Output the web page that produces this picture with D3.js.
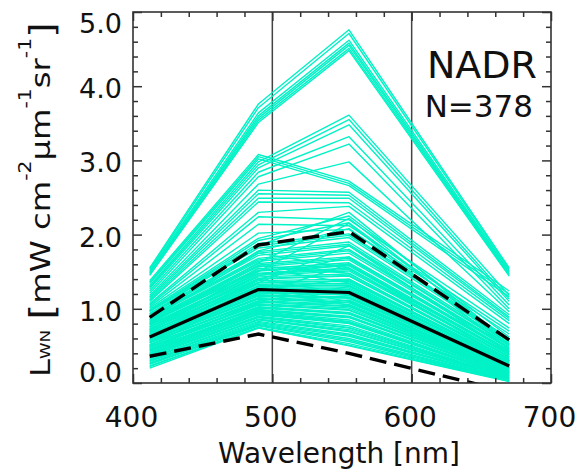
<!DOCTYPE html>
<html>
<head>
<meta charset="utf-8">
<script src="https://cdn.jsdelivr.net/npm/d3@7"></script>
<style>
  html, body { margin: 0; padding: 0; background: #fff; }
  svg { display: block; font-family: "DejaVu Sans", sans-serif; }
</style>
</head>
<body>
<svg id="chart" width="583" height="474"></svg>
<script>
// SeaWiFS-like bands (nm)
const wavelengths = [412, 490, 555, 670];

// Normalised water-leaving radiance spectra, one row per station: [412, 490, 555, 670]
const lwnSpectra = [
  // bright, high-reflectance stations
  [1.55, 3.76, 4.76, 1.55],
  [1.53, 3.71, 4.71, 1.53],
  [1.51, 3.64, 4.62, 1.51],
  [1.49, 3.60, 4.58, 1.49],
  [1.48, 3.57, 4.55, 1.47],
  [1.46, 3.54, 4.51, 1.46],
  [1.45, 3.51, 4.48, 1.44],
  // stations peaking at 490
  [1.38, 3.08, 2.72, 1.24],
  [1.36, 3.05, 2.69, 1.20],
  [1.34, 3.02, 2.66, 1.16],
  // stations peaking near 3.5 at 555
  [1.31, 2.98, 3.61, 1.18],
  [1.29, 2.94, 3.55, 1.13],
  [1.27, 2.90, 3.48, 1.10],
  [1.24, 2.84, 3.32, 1.05],
  [1.21, 2.78, 3.22, 1.00],
  // intermediate stations
  [1.18, 2.68, 2.98, 0.96],
  [1.16, 2.60, 2.57, 0.92],
  [1.14, 2.55, 2.53, 0.89],
  [1.12, 2.49, 2.49, 0.87],
  [1.10, 2.44, 2.43, 0.84],
  [1.07, 2.30, 2.38, 0.80],
  [1.05, 2.24, 2.20, 0.74],
  [1.03, 2.14, 2.12, 0.70],
  [1.01, 2.02, 2.07, 0.66],
  [0.99, 1.95, 2.25, 0.62],
  [0.97, 1.92, 2.16, 0.58],
  [0.93, 1.85, 2.30, 0.55],
  [0.88, 1.78, 2.08, 0.52],
  // bulk of the stations
  [0.98, 1.88, 2.01, 0.60],
  [0.97, 1.85, 1.99, 0.58],
  [0.96, 1.82, 1.96, 0.56],
  [0.94, 1.77, 1.90, 0.53],
  [0.93, 1.75, 1.87, 0.51],
  [0.92, 1.72, 1.85, 0.50],
  [0.90, 1.68, 1.80, 0.48],
  [0.89, 1.66, 1.78, 0.47],
  [0.88, 1.64, 1.75, 0.46],
  [0.86, 1.61, 1.70, 0.44],
  [0.85, 1.59, 1.68, 0.43],
  [0.84, 1.57, 1.66, 0.42],
  [0.83, 1.54, 1.62, 0.40],
  [0.82, 1.52, 1.60, 0.39],
  [0.81, 1.51, 1.58, 0.38],
  [0.79, 1.48, 1.55, 0.36],
  [0.78, 1.47, 1.53, 0.35],
  [0.78, 1.45, 1.51, 0.35],
  [0.76, 1.43, 1.47, 0.33],
  [0.755, 1.41, 1.45, 0.32],
  [0.75, 1.40, 1.44, 0.32],
  [0.73, 1.38, 1.40, 0.30],
  [0.725, 1.36, 1.38, 0.295],
  [0.72, 1.35, 1.37, 0.29],
  [0.70, 1.33, 1.34, 0.28],
  [0.695, 1.31, 1.32, 0.27],
  [0.69, 1.30, 1.31, 0.26],
  [0.67, 1.28, 1.28, 0.25],
  [0.665, 1.27, 1.26, 0.245],
  [0.66, 1.26, 1.25, 0.24],
  [0.64, 1.23, 1.22, 0.23],
  [0.635, 1.22, 1.20, 0.225],
  [0.63, 1.21, 1.19, 0.22],
  [0.61, 1.19, 1.16, 0.21],
  [0.605, 1.18, 1.15, 0.205],
  [0.60, 1.17, 1.14, 0.20],
  [0.58, 1.15, 1.11, 0.19],
  [0.575, 1.14, 1.09, 0.185],
  [0.57, 1.13, 1.08, 0.18],
  [0.55, 1.11, 1.06, 0.17],
  [0.545, 1.10, 1.04, 0.165],
  [0.54, 1.09, 1.03, 0.16],
  [0.52, 1.07, 1.01, 0.15],
  [0.515, 1.06, 0.99, 0.145],
  [0.51, 1.05, 0.98, 0.14],
  [0.49, 1.03, 0.95, 0.14],
  [0.485, 1.02, 0.94, 0.135],
  [0.48, 1.01, 0.93, 0.13],
  [0.46, 0.99, 0.90, 0.12],
  [0.455, 0.98, 0.89, 0.115],
  [0.44, 0.97, 0.88, 0.11],
  [0.43, 0.96, 0.85, 0.10],
  [0.425, 0.95, 0.83, 0.10],
  [0.41, 0.94, 0.82, 0.10],
  [0.395, 0.93, 0.81, 0.09],
  [0.39, 0.92, 0.80, 0.09],
  [0.38, 0.90, 0.77, 0.08],
  [0.37, 0.89, 0.75, 0.075],
  [0.36, 0.88, 0.74, 0.07],
  [0.34, 0.86, 0.72, 0.07],
  [0.335, 0.855, 0.70, 0.065],
  [0.33, 0.85, 0.69, 0.06],
  [0.31, 0.83, 0.66, 0.05],
  [0.30, 0.815, 0.645, 0.05],
  [0.29, 0.80, 0.63, 0.05],
  [0.27, 0.79, 0.60, 0.04],
  [0.26, 0.78, 0.58, 0.035],
  [0.25, 0.77, 0.56, 0.03],
  [0.23, 0.75, 0.53, 0.03],
  [0.22, 0.745, 0.51, 0.025],
  [0.20, 0.74, 0.50, 0.02],
  // stations crossing the bulk
  [0.70, 1.55, 1.35, 0.25],
  [0.85, 1.75, 1.55, 0.35],
  [0.60, 1.40, 1.20, 0.20],
  [0.55, 1.20, 1.60, 0.30],
  [0.65, 1.35, 1.85, 0.40],
  [0.75, 1.50, 2.15, 0.45],
  [0.80, 1.62, 2.22, 0.52],
  [0.45, 1.10, 1.30, 0.22],
  [0.50, 1.25, 1.05, 0.12],
  [0.40, 1.00, 1.12, 0.18],
  [0.62, 1.30, 1.10, 0.15],
  [0.72, 1.45, 1.60, 0.38],
  [0.58, 1.25, 1.40, 0.28],
  [0.48, 1.08, 1.18, 0.20],
  [0.80, 1.58, 1.48, 0.30],
  [0.68, 1.40, 1.70, 0.42]
];

// Mean spectrum and mean ± one standard deviation
const meanLwn  = [0.62, 1.26, 1.22, 0.23];
const upperLwn = [0.885, 1.86, 2.04, 0.58];
const lowerLwn = [0.36, 0.66, 0.40, -0.12];

const xTicks = [400, 500, 600, 700];
const yTicks = [0, 1, 2, 3, 4, 5];
const xMinorTicks = [420, 440, 460, 480, 520, 540, 560, 580, 620, 640, 660, 680];
const yMinorTicks = [0.2, 0.4, 0.6, 0.8, 1.2, 1.4, 1.6, 1.8, 2.2, 2.4, 2.6, 2.8,
                     3.2, 3.4, 3.6, 3.8, 4.2, 4.4, 4.6, 4.8];
const guideWavelengths = [500, 600];

const plotLeft = 133, plotRight = 551, plotTop = 12, plotBottom = 383;
const x = d3.scaleLinear().domain([400, 700]).range([plotLeft, plotRight]);
const y = d3.scaleLinear().domain([0, 5]).range([plotBottom, plotTop]);

const svg = d3.select("#chart");
svg.append("rect").attr("width", 583).attr("height", 474).attr("fill", "#fff");

svg.append("defs").append("clipPath").attr("id", "plotClip")
  .append("rect").attr("x", plotLeft).attr("y", plotTop)
  .attr("width", plotRight - plotLeft).attr("height", plotBottom - plotTop);

const axisColor = "#333";

// vertical guide lines
svg.append("g").selectAll("line").data(guideWavelengths).join("line")
  .attr("x1", d => x(d)).attr("x2", d => x(d))
  .attr("y1", plotTop).attr("y2", plotBottom)
  .attr("stroke", "#444").attr("stroke-width", 1.5);

const line = d3.line()
  .x((d, i) => x(wavelengths[i]))
  .y(d => y(d));

const plot = svg.append("g").attr("clip-path", "url(#plotClip)");

plot.append("g").selectAll("path").data(lwnSpectra).join("path")
  .attr("d", line)
  .attr("fill", "none")
  .attr("stroke", "rgb(0,242,198)")
  .attr("stroke-width", 1.4)
  .attr("stroke-linejoin", "round");

plot.append("path").datum(meanLwn).attr("d", line)
  .attr("fill", "none").attr("stroke", "#000").attr("stroke-width", 3.2)
  .attr("stroke-linejoin", "round");

plot.append("g").selectAll("path").data([upperLwn, lowerLwn]).join("path")
  .attr("d", line)
  .attr("fill", "none").attr("stroke", "#000").attr("stroke-width", 3.4)
  .attr("stroke-dasharray", "17,8");

// frame
svg.append("rect")
  .attr("x", plotLeft).attr("y", plotTop)
  .attr("width", plotRight - plotLeft).attr("height", plotBottom - plotTop)
  .attr("fill", "none").attr("stroke", axisColor).attr("stroke-width", 1.6);

function styleAxis(g) {
  g.select(".domain").remove();
  g.selectAll(".tick line").attr("stroke", axisColor).attr("stroke-width", 1.5);
}

// inward ticks on all four sides
svg.append("g").attr("transform", `translate(0,${plotBottom})`)
  .call(d3.axisBottom(x).tickValues(xTicks).tickSize(-9).tickFormat("")).call(styleAxis);
svg.append("g").attr("transform", `translate(0,${plotBottom})`)
  .call(d3.axisBottom(x).tickValues(xMinorTicks).tickSize(-5).tickFormat("")).call(styleAxis);
svg.append("g").attr("transform", `translate(0,${plotTop})`)
  .call(d3.axisTop(x).tickValues(xTicks).tickSize(-9).tickFormat("")).call(styleAxis);
svg.append("g").attr("transform", `translate(0,${plotTop})`)
  .call(d3.axisTop(x).tickValues(xMinorTicks).tickSize(-5).tickFormat("")).call(styleAxis);
svg.append("g").attr("transform", `translate(${plotLeft},0)`)
  .call(d3.axisLeft(y).tickValues(yTicks).tickSize(-9).tickFormat("")).call(styleAxis);
svg.append("g").attr("transform", `translate(${plotLeft},0)`)
  .call(d3.axisLeft(y).tickValues(yMinorTicks).tickSize(-5).tickFormat("")).call(styleAxis);
svg.append("g").attr("transform", `translate(${plotRight},0)`)
  .call(d3.axisRight(y).tickValues(yTicks).tickSize(-9).tickFormat("")).call(styleAxis);
svg.append("g").attr("transform", `translate(${plotRight},0)`)
  .call(d3.axisRight(y).tickValues(yMinorTicks).tickSize(-5).tickFormat("")).call(styleAxis);

// tick labels
svg.append("g").selectAll("text").data(xTicks).join("text")
  .attr("x", d => x(d) - 1.5).attr("y", 427)
  .attr("text-anchor", "middle")
  .attr("font-size", 28).attr("fill", "#111")
  .text(d => d3.format("d")(d));

svg.append("g").selectAll("text").data(yTicks).join("text")
  .attr("x", 122)
  .attr("y", d => Math.min(Math.max(y(d) + 12, plotTop + 21), plotBottom - 1))
  .attr("text-anchor", "end")
  .attr("font-size", 27).attr("fill", "#111")
  .text(d => d3.format(".1f")(d));

// axis titles
svg.append("text")
  .attr("x", 339).attr("y", 463)
  .attr("text-anchor", "middle")
  .attr("font-size", 28).attr("fill", "#111")
  .text("Wavelength [nm]");

const yTitle = svg.append("g").attr("transform", "translate(50,377) rotate(-90)")
  .append("text")
  .attr("x", 0).attr("y", 0)
  .attr("font-size", 27).attr("fill", "#111")
  .attr("textLength", 355).attr("lengthAdjust", "spacingAndGlyphs");
yTitle.append("tspan").text("L");
yTitle.append("tspan").attr("font-size", 14).text("WN");
yTitle.append("tspan").text(" ");
yTitle.append("tspan").attr("font-size", 34).attr("dy", 4).text("[");
yTitle.append("tspan").attr("dy", -4).text("mW cm");
yTitle.append("tspan").attr("font-size", 17).attr("dy", -19).text("-2");
yTitle.append("tspan").attr("dy", 19).text("μm");
yTitle.append("tspan").attr("font-size", 17).attr("dy", -19).text("-1");
yTitle.append("tspan").attr("dy", 19).text("sr");
yTitle.append("tspan").attr("font-size", 17).attr("dy", -19).text("-1");
yTitle.append("tspan").attr("font-size", 34).attr("dy", 23).text("]");

// panel annotation
svg.append("text")
  .attr("x", 537).attr("y", 78).attr("text-anchor", "end")
  .attr("font-size", 38).attr("fill", "#111")
  .text("NADR");
svg.append("text")
  .attr("x", 533).attr("y", 117).attr("text-anchor", "end")
  .attr("font-size", 31).attr("fill", "#111")
  .text("N=378");
</script>
</body>
</html>
